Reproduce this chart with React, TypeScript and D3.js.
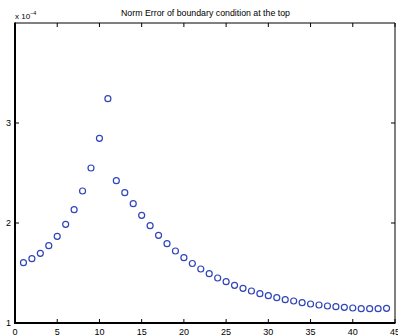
import React from "react";
import * as d3 from "d3";

const xValues = [1,2,3,4,5,6,7,8,9,10,11,12,13,14,15,16,17,18,19,20,21,22,23,24,25,26,27,28,29,30,31,32,33,34,35,36,37,38,39,40,41,42,43,44];
const yValues = [1.603,1.643,1.697,1.773,1.867,1.987,2.133,2.32,2.55,2.847,3.243,2.423,2.303,2.193,2.077,1.973,1.877,1.793,1.72,1.653,1.595,1.54,1.493,1.45,1.413,1.377,1.347,1.32,1.293,1.273,1.253,1.233,1.22,1.203,1.19,1.18,1.17,1.163,1.157,1.15,1.143,1.143,1.143,1.147];
const xTicks = [0,5,10,15,20,25,30,35,40,45];
const yTicks = [1,2,3];
const title = "Norm Error of boundary condition at the top";

export default function App() {
  const W = 398, H = 336;
  const left = 15, right = 395, top = 23, bottom = 323;
  const x = d3.scaleLinear().domain([0, 45]).range([left, right]);
  const y = d3.scaleLinear().domain([1, 4]).range([bottom, top]);
  const font = "'Liberation Sans', Arial, Helvetica, sans-serif";
  const tl = 4;
  return (
    <svg width={W} height={H} style={{ position: "absolute", left: 0, top: 0, background: "#fff" }} fontFamily={font}>
      <rect x={0} y={0} width={W} height={H} fill="#fff" />
      <text x={121} y={16} fontSize={9.5} textLength={169} lengthAdjust="spacingAndGlyphs" fill="#000">{title}</text>
      <text x={15} y={19} fontSize={8} fill="#000">x 10<tspan dy={-4} fontSize={5.5}>−4</tspan></text>
      <line x1={left} x2={right} y1={top} y2={top} stroke="#000" strokeWidth={1} />
      <line x1={right} x2={right} y1={top} y2={bottom} stroke="#000" strokeWidth={1} />
      <line x1={left} x2={left} y1={top - 0.5} y2={bottom + 1} stroke="#000" strokeWidth={2} />
      <line x1={left - 1} x2={right + 0.5} y1={bottom} y2={bottom} stroke="#000" strokeWidth={2} />
      {xTicks.map((t) => (
        <g key={"x" + t}>
          <line x1={x(t)} x2={x(t)} y1={bottom} y2={bottom - tl} stroke="#000" />
          <line x1={x(t)} x2={x(t)} y1={top} y2={top + tl} stroke="#000" />
          <text x={x(t)} y={335} fontSize={9} textAnchor="middle" fill="#000">{t}</text>
        </g>
      ))}
      {yTicks.map((t) => (
        <g key={"y" + t}>
          <line x1={left} x2={left + tl} y1={y(t)} y2={y(t)} stroke="#000" />
          <line x1={right} x2={right - tl} y1={y(t)} y2={y(t)} stroke="#000" />
          <text x={left - 4} y={y(t) + 3} fontSize={9} textAnchor="end" fill="#000">{t}</text>
        </g>
      ))}
      {xValues.map((xv, i) => (
        <circle key={i} cx={x(xv)} cy={y(yValues[i])} r={3} fill="none" stroke="#2f45b8" strokeWidth={1.2} />
      ))}
    </svg>
  );
}
